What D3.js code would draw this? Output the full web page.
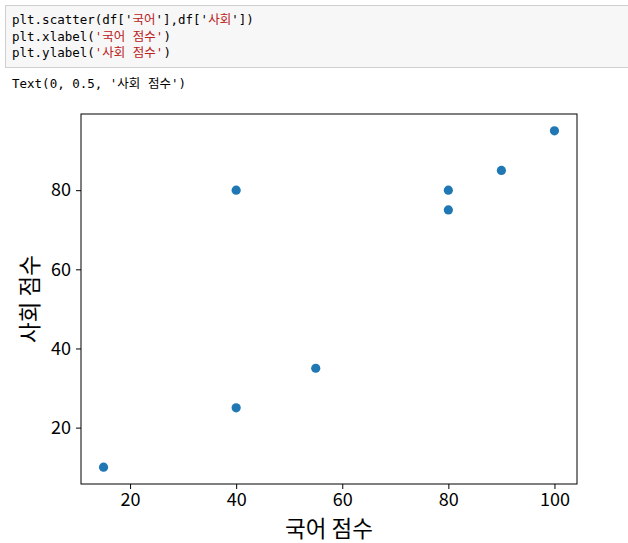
<!DOCTYPE html>
<html>
<head>
<meta charset="utf-8">
<script src="https://cdn.jsdelivr.net/npm/d3@7"></script>
<style>
  body { margin: 0; background: #fff; }
  .code { font-family: "DejaVu Sans Mono", "Noto Sans CJK KR", monospace; font-size: 12.5px; fill: #000; }
  .str { fill: #ba2121; }
  .tick text { font-family: "Noto Sans CJK KR", "DejaVu Sans", sans-serif; font-size: 18px; fill: #000; }
  .tick line { stroke: #000; }
  .domain { display: none; }
  .label { font-family: "Noto Sans CJK KR", "DejaVu Sans", sans-serif; font-size: 22.5px; fill: #000; }
</style>
</head>
<body>
<div id="graph"></div>
<script>
var korean = [15, 40, 40, 55, 80, 80, 90, 100];
var social = [10, 80, 25, 35, 80, 75, 85, 95];
var xTicks = [20, 40, 60, 80, 100];
var yTicks = [20, 40, 60, 80];

var width = 628,
    height = 543,
    plotLeft = 81, plotRight = 577, plotTop = 114, plotBottom = 484;

var svg = d3.select('#graph')
    .append('svg')
    .attr('width', width)
    .attr('height', height);

// code cell
svg.append('rect')
    .attr('x', 5.5).attr('y', 5.5)
    .attr('width', 630).attr('height', 62)
    .attr('fill', '#f7f7f7')
    .attr('stroke', '#cfcfcf');

var lines = [
    [['plt.scatter(df[\'', ''], ['국어', 's'], ['\'],df[\'', ''], ['사회', 's'], ['\'])', '']],
    [['plt.xlabel(', ''], ['\'국어 점수\'', 's'], [')', '']],
    [['plt.ylabel(', ''], ['\'사회 점수\'', 's'], [')', '']]
];
lines.forEach(function(parts, i) {
    var t = svg.append('text')
        .attr('class', 'code')
        .attr('x', 12)
        .attr('y', 24 + i * 16.5);
    parts.forEach(function(p) {
        t.append('tspan').attr('class', p[1] ? 'str' : null).text(p[0]);
    });
});

svg.append('text')
    .attr('class', 'code')
    .attr('x', 12)
    .attr('y', 88)
    .text("Text(0, 0.5, '사회 점수')");

// scales with matplotlib-style 5% margins
var xPad = (d3.max(korean) - d3.min(korean)) * 0.05;
var yPad = (d3.max(social) - d3.min(social)) * 0.05;

var x = d3.scaleLinear()
    .domain([d3.min(korean) - xPad, d3.max(korean) + xPad])
    .range([plotLeft, plotRight]);

var y = d3.scaleLinear()
    .domain([d3.min(social) - yPad, d3.max(social) + yPad])
    .range([plotBottom, plotTop]);

svg.append('g')
    .attr('transform', 'translate(0,' + plotBottom + ')')
    .call(d3.axisBottom(x).tickValues(xTicks).tickSize(5).tickPadding(4).tickFormat(d3.format('d')));

svg.append('g')
    .attr('transform', 'translate(' + plotLeft + ',0)')
    .call(d3.axisLeft(y).tickValues(yTicks).tickSize(5).tickPadding(5).tickFormat(d3.format('d')));

svg.append('rect')
    .attr('x', plotLeft).attr('y', plotTop)
    .attr('width', plotRight - plotLeft).attr('height', plotBottom - plotTop)
    .attr('fill', 'none')
    .attr('stroke', '#000')
    .attr('stroke-width', 1);

svg.selectAll('.dot')
    .data(korean)
    .enter()
    .append('circle')
    .attr('class', 'dot')
    .attr('cx', function(d) { return x(d); })
    .attr('cy', function(d, i) { return y(social[i]); })
    .attr('r', 4.6)
    .attr('fill', '#1f77b4');

svg.append('text')
    .attr('class', 'label')
    .attr('x', (plotLeft + plotRight) / 2)
    .attr('y', 537)
    .attr('text-anchor', 'middle')
    .text('국어 점수');

svg.append('text')
    .attr('class', 'label')
    .attr('transform', 'translate(38,' + (plotTop + plotBottom) / 2 + ') rotate(-90)')
    .attr('text-anchor', 'middle')
    .text('사회 점수');
</script>
</body>
</html>
